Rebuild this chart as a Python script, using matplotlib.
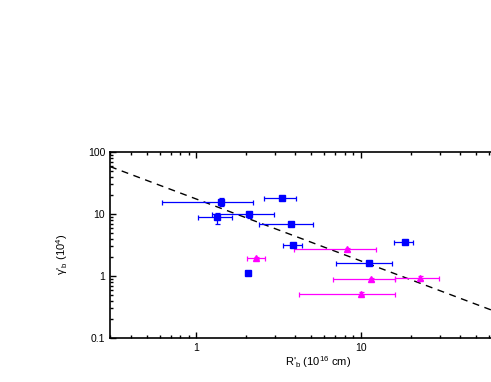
import matplotlib
matplotlib.use("Agg")
import matplotlib.pyplot as plt
import numpy as np
from matplotlib.ticker import LogLocator, FixedLocator, FixedFormatter, NullFormatter

plt.rcParams['font.family'] = ['Liberation Sans', 'DejaVu Sans']

# Blue squares
b_x = [1.42, 1.33, 2.10, 3.31, 3.76, 3.85, 2.06, 18.4, 11.2]
b_xlo = [0.62, 1.03, 1.25, 2.59, 2.41, 3.35, 2.06, 15.9, 7.05]
b_xhi = [2.21, 1.65, 2.96, 4.04, 5.14, 4.37, 2.06, 20.8, 15.4]
b_y = [15.6, 8.85, 10.0, 18.3, 6.82, 3.16, 1.12, 3.57, 1.62]
b_ylo = [13.6, 6.9, 8.6, 18.3, 6.3, 3.0, 1.12, 3.57, 1.5]
b_yhi = [18.0, 10.5, 10.9, 18.3, 7.3, 3.3, 1.12, 3.57, 1.75]

# Magenta triangles
m_x = [2.31, 8.19, 11.5, 22.8, 10.0]
m_xlo = [2.03, 3.94, 6.76, 16.1, 4.21]
m_xhi = [2.62, 12.3, 16.0, 29.7, 16.0]
m_y = [1.93, 2.69, 0.885, 0.94, 0.52]
m_ylo = [1.85, 2.5, 0.83, 0.87, 0.49]
m_yhi = [2.0, 2.85, 0.94, 1.01, 0.55]

# Dashed fit line y = A / x
fit_A = 17.5
fit_slope = -1.0
fit_x = [0.3, 100]

fig = plt.figure(figsize=(4.91, 3.82), dpi=100)
ax = fig.add_axes([0.224, 0.115, 0.847, 0.487])

def errs(v, lo, hi):
    v = np.array(v); return [v - np.array(lo), np.array(hi) - v]

ax.errorbar(b_x, b_y, xerr=errs(b_x, b_xlo, b_xhi), yerr=errs(b_y, b_ylo, b_yhi),
            fmt='s', color='#0000ff', ms=4.8, elinewidth=0.9, capsize=1.8, capthick=0.9,
            zorder=3)
ax.errorbar(m_x, m_y, xerr=errs(m_x, m_xlo, m_xhi), yerr=errs(m_y, m_ylo, m_yhi),
            fmt='^', color='#ff00ff', ms=4.8, elinewidth=0.9, capsize=1.8, capthick=0.9,
            zorder=3)

fx = np.array(fit_x)
ax.plot(fx, fit_A * fx ** fit_slope, ls=(0, (5, 4)), color='black', lw=1.0, zorder=2)

ax.set_xscale('log')
ax.set_yscale('log')
ax.set_xlim(0.3, 100)
ax.set_ylim(0.1, 100)

ax.xaxis.set_major_locator(FixedLocator([1, 10]))
ax.xaxis.set_major_formatter(FixedFormatter(['1', '10']))
ax.xaxis.set_minor_locator(LogLocator(base=10, subs=np.arange(2, 10)))
ax.xaxis.set_minor_formatter(NullFormatter())
ax.yaxis.set_major_locator(FixedLocator([0.1, 1, 10, 100]))
ax.yaxis.set_major_formatter(FixedFormatter(['0.1', '1', '10', '100']))
ax.yaxis.set_minor_locator(LogLocator(base=10, subs=np.arange(2, 10)))
ax.yaxis.set_minor_formatter(NullFormatter())

ax.tick_params(which='both', direction='in', top=True, right=False, labelsize=7.5, width=1.0)
ax.tick_params(which='major', length=4)
ax.tick_params(which='minor', length=2.5)
for s in ['left', 'bottom', 'top']:
    ax.spines[s].set_linewidth(1.2)
ax.spines['right'].set_visible(False)

ax.set_xlabel("R'$_\\mathregular{b}$ (10$^\\mathregular{16}$ cm)", fontsize=8)
ax.set_ylabel("γ'$_\\mathregular{b}$ (10$^\\mathregular{4}$)", fontsize=8)
ax.xaxis.set_label_coords(0.5, -0.085)
ax.yaxis.set_label_coords(-0.095, 0.45)

fig.savefig('out.png', dpi=100)
